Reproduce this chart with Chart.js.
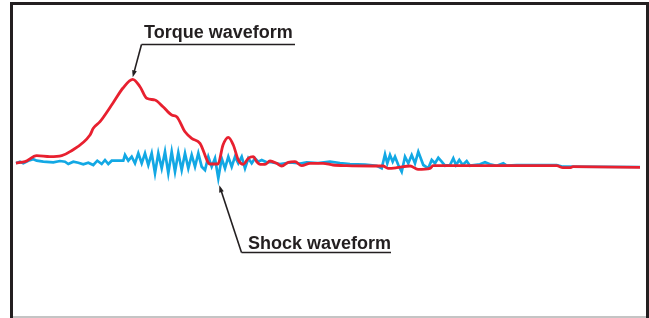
<!DOCTYPE html>
<html>
<head>
<meta charset="utf-8">
<script src="https://cdn.jsdelivr.net/npm/chart.js@4"></script>
<style>
  html, body { margin: 0; padding: 0; background: #fff; }
  #wrap { width: 649px; height: 318px; }
</style>
</head>
<body>
<div id="wrap"><canvas id="chart" width="649" height="318"></canvas></div>
<script>
// Data (time, amplitude)
const torqueTime = [16, 25, 36.7, 50, 61.7, 70, 90, 93.3, 100, 113, 123, 132.7, 140, 146.7, 155, 163, 171.7, 176.7, 185, 191.7, 200, 210, 218, 223, 228.3, 233.3, 238.3, 243.3, 248.3, 253.3, 256.7, 260, 265, 270, 276.7, 281.7, 288.3, 295, 301.7, 310, 323, 333, 346.7, 373, 383, 388, 396.7, 410, 418, 430, 433, 556.7, 563, 570, 573, 640];
const torqueValues = [0, 1.3, 7.3, 6.3, 7.3, 11.3, 28, 34.7, 41.3, 60, 75, 83.7, 76.3, 64.7, 63, 56.3, 48, 46.3, 31.3, 24.7, 19.7, -1, -1, 18, 25.7, 18, 3, -1.3, 4.7, 6.3, 1.3, -1.3, -1.3, 2, -0.3, -3, 0.7, 1.3, -2.7, -0.3, -0.3, -2, -2.7, -3, -3, -5.3, -4.7, -3, -6.3, -5.3, -2.7, -2.7, -4.7, -4.7, -3.7, -4.3];

const shockTime = [16, 20, 23.3, 28.3, 33.3, 36.7, 43.3, 53.3, 60, 65, 68.3, 73.3, 78.3, 83.3, 88.3, 93.3, 97.3, 101.7, 105, 108.3, 111.7, 116.7, 123.3, 125, 128.3, 131.7, 135, 138.3, 141.7, 145, 148.3, 151.7, 155, 158.3, 161.7, 165, 168.3, 171.7, 175, 178.3, 181.7, 185, 188.3, 191.7, 195, 198.3, 201.7, 205, 208.3, 211.7, 215, 218.3, 221.7, 225, 228.3, 231.7, 235, 238.3, 241.7, 245, 248.3, 251.7, 255, 258.3, 261.7, 266.7, 270, 280, 290, 300, 306.7, 318, 330, 340, 350, 365, 370, 376.7, 381.7, 385, 387.3, 390, 392.7, 395, 398.3, 401.7, 405, 408.3, 411.7, 415, 418.3, 423.3, 428.3, 431.7, 435, 438.3, 441.7, 445, 450, 453.3, 456, 459.3, 462.7, 466.7, 470, 480, 485, 490, 496.7, 503.3, 506.7, 516.7, 540, 556.7, 563, 640];
const shockValues = [-0.3, 1.3, -0.3, 2.3, 3.7, 2.3, 1.3, 0.7, 2, 1.3, -1, 1.3, 0.3, -1.3, 0.3, -2, 2.3, -1, 3, -1, 2.3, 2.3, 2.3, 8, 2.3, 6.3, -0.3, 9.7, -0.3, 9.7, -2, 9.7, -10.3, 9.7, -5.3, 11.3, -10.3, 11.3, -8.7, 10.3, -7, 9.7, -5.3, 8, -3.7, 9.7, -3.7, -7, 6.3, -3.7, 4.7, -15.3, 4.7, -5.3, 6.3, -3.7, 6.3, -0.3, 6.3, -5.3, 4.7, -0.3, 4.7, 1.3, 3, 0.7, 1, -1, 0.5, -0.5, 0.7, 0, 1.3, 0, -1, -1.5, -2, -2.7, -5.3, 8.7, -0.3, 8, 1.3, 6.3, -2, -8.7, 6.3, -0.3, 8, -0.3, 11.3, -2, -5.3, 3, -0.3, 5.3, 1.3, -2.7, -2, 4.7, -2, 3, -2, 2, -2.7, -1.3, 0.7, -1.3, -2.7, -0.3, -2.7, -2, -2, -2, -3.7, -4];

// Callout labels, each pointing at a data point
const labels = ['Torque waveform', 'Shock waveform'];
const labelTargets = [[132.7, 83.7], [218.3, -15.3]];

const toPoints = (xs, ys) => xs.map((x, i) => ({ x: x, y: ys[i] }));

const ink = '#231f20';

// Draw an arrow ending at (x2, y2)
function arrow(ctx, x1, y1, x2, y2) {
  const ang = Math.atan2(y2 - y1, x2 - x1);
  const len = 7, w = 2.4;
  ctx.beginPath();
  ctx.moveTo(x1, y1);
  ctx.lineTo(x2 - Math.cos(ang) * len * 0.8, y2 - Math.sin(ang) * len * 0.8);
  ctx.stroke();
  ctx.beginPath();
  ctx.moveTo(x2, y2);
  ctx.lineTo(x2 - Math.cos(ang) * len - Math.sin(ang) * w, y2 - Math.sin(ang) * len + Math.cos(ang) * w);
  ctx.lineTo(x2 - Math.cos(ang) * len + Math.sin(ang) * w, y2 - Math.sin(ang) * len - Math.cos(ang) * w);
  ctx.closePath();
  ctx.fill();
}

const framePlugin = {
  id: 'frame',
  afterDraw(chart) {
    const ctx = chart.ctx;
    const xs = chart.scales.x, ys = chart.scales.y;
    ctx.save();

    // outer frame
    ctx.strokeStyle = '#c4c4c4';
    ctx.lineWidth = 2;
    ctx.beginPath();
    ctx.moveTo(13, 317);
    ctx.lineTo(649, 317);
    ctx.stroke();
    ctx.strokeStyle = ink;
    ctx.lineWidth = 3;
    ctx.beginPath();
    ctx.moveTo(11.5, 318);
    ctx.lineTo(11.5, 3.5);
    ctx.lineTo(647.5, 3.5);
    ctx.lineTo(647.5, 318);
    ctx.stroke();

    // callouts
    ctx.fillStyle = ink;
    ctx.strokeStyle = ink;
    ctx.lineWidth = 1.6;
    ctx.font = 'bold 18px "Liberation Sans", Arial, sans-serif';
    ctx.textBaseline = 'alphabetic';

    // torque: label above, arrow down to peak
    let px = xs.getPixelForValue(labelTargets[0][0]);
    let py = ys.getPixelForValue(labelTargets[0][1]);
    ctx.fillText(labels[0], 144, 37.5);
    ctx.beginPath();
    ctx.moveTo(141.5, 44.5);
    ctx.lineTo(295, 44.5);
    ctx.stroke();
    arrow(ctx, 141.5, 44.5, px, py - 2);

    // shock: label below, arrow up to dip
    px = xs.getPixelForValue(labelTargets[1][0]);
    py = ys.getPixelForValue(labelTargets[1][1]);
    ctx.fillText(labels[1], 248, 248.5);
    ctx.beginPath();
    ctx.moveTo(241.5, 252.5);
    ctx.lineTo(391, 252.5);
    ctx.stroke();
    arrow(ctx, 241.5, 252.5, px + 1, py + 7);

    ctx.restore();
  }
};

new Chart(document.getElementById('chart').getContext('2d'), {
  type: 'line',
  data: {
    datasets: [
      {
        label: 'Torque',
        data: toPoints(torqueTime, torqueValues),
        borderColor: '#e8202f',
        borderWidth: 2.8,
        pointRadius: 0,
        tension: 0.4,
        cubicInterpolationMode: 'monotone'
      },
      {
        label: 'Shock',
        data: toPoints(shockTime, shockValues),
        borderColor: '#12a8e4',
        borderWidth: 2.7,
        pointRadius: 0,
        tension: 0
      }
    ]
  },
  options: {
    responsive: false,
    animation: false,
    devicePixelRatio: 1,
    layout: { padding: 0 },
    plugins: { legend: { display: false }, tooltip: { enabled: false } },
    scales: {
      x: { type: 'linear', min: 0, max: 649, display: false },
      y: { min: -155, max: 163, display: false }
    }
  },
  plugins: [framePlugin]
});
</script>
</body>
</html>
